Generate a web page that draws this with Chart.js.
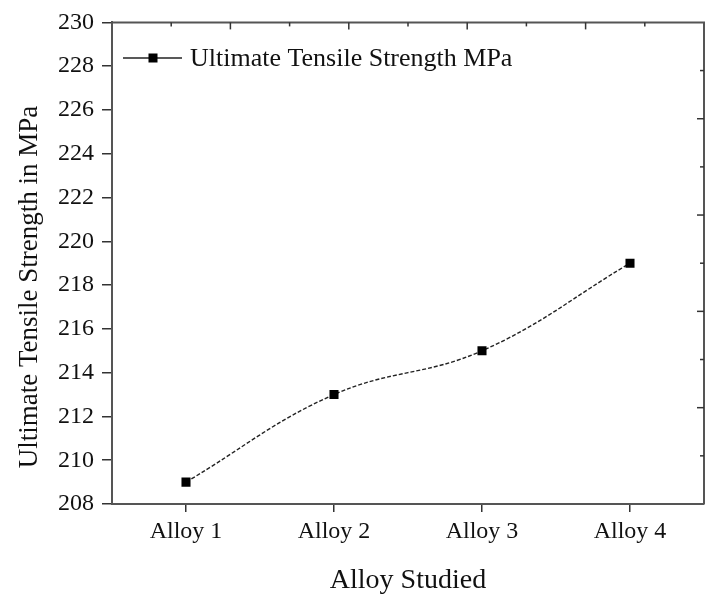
<!DOCTYPE html>
<html>
<head>
<meta charset="utf-8">
<script src="https://cdn.jsdelivr.net/npm/chart.js@4/dist/chart.umd.min.js"></script>
<style>
  html,body{margin:0;padding:0;background:#fff;}
  #wrap{width:714px;height:595px;position:relative;}
</style>
</head>
<body>
<div id="wrap"><canvas id="c" width="714" height="595"></canvas></div>
<script>
const categories = ["Alloy 1", "Alloy 2", "Alloy 3", "Alloy 4"];
const strengthValues = [209, 213, 215, 219];
const seriesName = "Ultimate Tensile Strength MPa";
const yTitle = "Ultimate Tensile Strength in MPa";
const xTitle = "Alloy Studied";
const yMin = 208, yMax = 230, yStep = 2;

const SERIF = "'Liberation Serif', 'Times New Roman', serif";
const TXT = "#111";
const AXIS = "#555";

const framePlugin = {
  id: "frame",
  afterDraw(chart) {
    const ctx = chart.ctx;
    const a = chart.chartArea;
    const xt = chart.scales.xTop, yr = chart.scales.yRight;
    ctx.save();
    ctx.strokeStyle = AXIS;
    ctx.lineWidth = 2;
    ctx.beginPath();
    ctx.moveTo(a.left, a.top); ctx.lineTo(a.right, a.top); ctx.lineTo(a.right, a.bottom);
    ctx.stroke();
    ctx.strokeStyle = "#333";
    ctx.lineWidth = 1.5;
    for (let k = 1; k < 10; k++) {
      const x = xt.getPixelForValue(k);
      const len = k % 2 === 0 ? 7 : 4;
      ctx.beginPath(); ctx.moveTo(x, a.top); ctx.lineTo(x, a.top + len); ctx.stroke();
    }
    for (let k = 1; k < 10; k++) {
      const y = yr.getPixelForValue(k);
      const len = k % 2 === 0 ? 7 : 4;
      ctx.beginPath(); ctx.moveTo(a.right, y); ctx.lineTo(a.right - len, y); ctx.stroke();
    }
    ctx.fillStyle = TXT;
    ctx.font = "27px " + SERIF;
    ctx.translate(37, 287);
    ctx.rotate(-Math.PI / 2);
    ctx.textAlign = "center";
    ctx.textBaseline = "alphabetic";
    ctx.fillText(yTitle, 0, 0);
    ctx.restore();

    ctx.save();
    const ly = 58;
    ctx.strokeStyle = "#222";
    ctx.lineWidth = 1.4;
    ctx.beginPath(); ctx.moveTo(123, ly); ctx.lineTo(182, ly); ctx.stroke();
    ctx.fillStyle = "#000";
    ctx.fillRect(153 - 4.5, ly - 4.5, 9, 9);
    ctx.fillStyle = TXT;
    ctx.font = "26px " + SERIF;
    ctx.textAlign = "left";
    ctx.textBaseline = "alphabetic";
    ctx.fillText(seriesName, 190, 66);
    ctx.restore();
  }
};

new Chart(document.getElementById("c"), {
  type: "line",
  data: {
    labels: categories,
    datasets: [{
      label: seriesName,
      data: strengthValues,
      borderColor: "#222",
      borderWidth: 1.4,
      borderDash: [4, 2],
      tension: 0.4,
      fill: false,
      pointStyle: "rect",
      pointRadius: 6.4,
      pointBackgroundColor: "#000",
      pointBorderColor: "#000",
      pointBorderWidth: 0
    }]
  },
  options: {
    responsive: false,
    animation: false,
    devicePixelRatio: 1,
    layout: { padding: { top: 20, right: 10, left: 0, bottom: 0 } },
    plugins: { legend: { display: false }, tooltip: { enabled: false } },
    scales: {
      x: {
        type: "category",
        offset: true,
        position: "bottom",
        grid: { display: true, drawOnChartArea: false, drawTicks: true, tickLength: 8, color: "#333", lineWidth: 1.5, offset: false },
        border: { display: true, color: AXIS, width: 2 },
        ticks: { color: TXT, font: { family: SERIF, size: 24 }, padding: 5, maxRotation: 0 },
        title: { display: true, text: xTitle, color: TXT, font: { family: SERIF, size: 28, lineHeight: 1 }, padding: { top: 0, bottom: 0 } },
        afterFit(s) { s.height = 91; }
      },
      y: {
        type: "linear",
        position: "left",
        min: yMin, max: yMax,
        grid: { display: true, drawOnChartArea: false, drawTicks: true, tickLength: 10, color: "#333", lineWidth: 1.5 },
        border: { display: true, color: AXIS, width: 2 },
        ticks: { stepSize: yStep, color: TXT, font: { family: SERIF, size: 24 }, padding: 8 },
        title: { display: false },
        afterFit(s) { s.width = 112; }
      },
      xTop: {
        type: "linear", position: "top", min: 0, max: 10, display: false
      },
      yRight: {
        type: "linear", position: "right", min: 0, max: 10, display: false
      }
    }
  },
  plugins: [framePlugin]
});
</script>
</body>
</html>
